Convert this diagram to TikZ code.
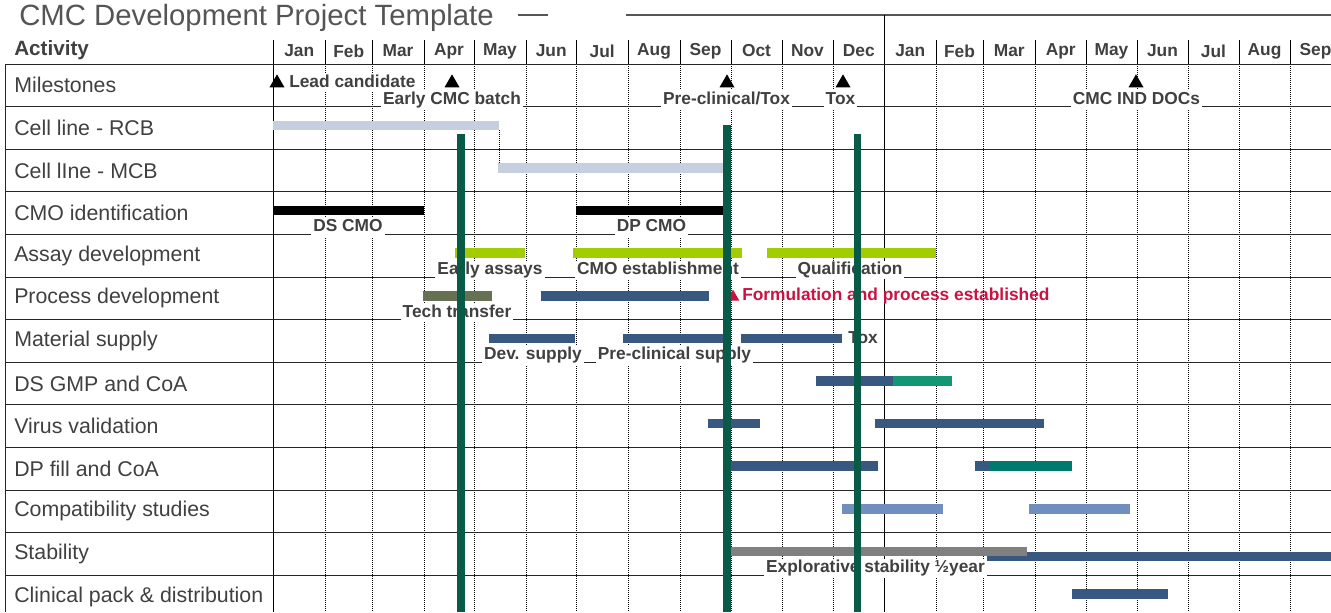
\documentclass[tikz,border=0pt]{standalone}
\usepackage{fontspec}
\setmainfont{Liberation Sans}
\usetikzlibrary{shapes.geometric}

\definecolor{txtgray}{RGB}{64,64,64}
\definecolor{titlegray}{RGB}{85,85,85}
\definecolor{rcbblue}{RGB}{197,207,224}
\definecolor{barblue}{RGB}{56,88,128}
\definecolor{limebar}{RGB}{162,205,0}
\definecolor{olivebar}{RGB}{102,112,82}
\definecolor{tealbar}{RGB}{18,150,115}
\definecolor{darkteal}{RGB}{0,122,110}
\definecolor{steelbar}{RGB}{112,143,188}
\definecolor{stabgray}{RGB}{128,128,128}
\definecolor{keygreen}{RGB}{10,90,72}
\definecolor{alertred}{RGB}{204,18,66}

\tikzset{
	rowlbl/.style={anchor=west, inner sep=0pt, text=txtgray, font=\fontsize{16}{18}\selectfont},
	month/.style={text=txtgray, font=\bfseries\fontsize{13}{15}\selectfont},
	barlbl/.style={anchor=base, fill=white, text=txtgray, inner xsep=1.5pt, inner ysep=1pt,
		text height=9.5pt, text depth=2.6pt, font=\bfseries\fontsize{13}{15}\selectfont},
	mstone/.style={regular polygon, regular polygon sides=3, fill=black, inner sep=0pt, minimum size=13pt},
	gridline/.style={black, densely dotted, line width=0.5pt},
	rowline/.style={black!85, line width=0.7pt},
	ganttbar/.style={line width=7.1pt},
	keybar/.style={keygreen, line width=5.6pt}
}

\begin{document}
\begin{tikzpicture}[x=0.75pt, y=-0.75pt]
	\useasboundingbox (0,0) rectangle (1331,612);
	\clip (0,0) rectangle (1331,612);
	% Title
	\node [anchor=west, inner sep=0pt, text=titlegray, font=\fontsize{22}{26}\selectfont] (title) at (19,18) {CMC Development Project Template};
	\draw [titlegray, line width=0.8pt] (518,15) -- (548,15);
	\draw [titlegray, line width=0.8pt] (626,15) -- (1331,15);
	% Header and month grid
	\node [anchor=west, inner sep=0pt, text=txtgray, font=\bfseries\fontsize{15.5}{18}\selectfont] (activity) at (14,50) {Activity};
	\foreach \mon/\xa/\xb [count=\i] in {Jan/273/325.5, Feb/325.5/372, Mar/372/424, Apr/424/474, May/474/526, Jun/526/576.5, Jul/576.5/628, Aug/628/680, Sep/680/731, Oct/731/782, Nov/782/833, Dec/833/884.5, Jan/884.5/936, Feb/936/983, Mar/983/1035.5, Apr/1035.5/1086, May/1086/1137, Jun/1137/1188, Jul/1188/1239, Aug/1239/1290, Sep/1290/1341}{
		\node [month] (mon\i) at ({(\xa+\xb)/2},51) {\mon};
		\draw [black, line width=0.6pt] (\xb,40) -- (\xb,64);
		\draw [gridline] (\xb,64) -- (\xb,612);
	}
	\draw [black, line width=0.7pt] (273,40) -- (273,612);
	\draw [black, line width=0.7pt] (884.5,15) -- (884.5,612);
	\draw [rowline] (5,64) -- (1331,64);
	\draw [rowline] (5,64) -- (5,612);
	% Activities
	\foreach \lbl [count=\r from 0] in {Milestones, Cell line - RCB, Cell lIne - MCB, CMO identification, Assay development, Process development, Material supply, DS GMP and CoA, Virus validation, DP fill and CoA, Compatibility studies, Stability, {Clinical pack \& distribution}}{
		\node [rowlbl] (row\r) at (14,{64+42.6*(\r+0.5)}) {\lbl};
		\draw [rowline] (5,{64+42.6*(\r+1)}) -- (1331,{64+42.6*(\r+1)});
	}
	% Bars
	\draw [ganttbar, rcbblue] (273,125.4) -- (499,125.4);
	\draw [ganttbar, rcbblue] (498,168) -- (730,168);
	\coordinate (rcbend) at (499,130);
	\coordinate (mcbstart) at (499,163.5);
	\draw [gridline] (rcbend) -- (mcbstart);
	\draw [ganttbar, black] (273,210.6) -- (423.5,210.6);
	\draw [ganttbar, black] (575.5,210.6) -- (723,210.6);
	\draw [ganttbar, limebar] (455,253.2) -- (525,253.2);
	\draw [ganttbar, limebar] (573,253.2) -- (742,253.2);
	\draw [ganttbar, limebar] (767,253.2) -- (936,253.2);
	\draw [ganttbar, olivebar] (422.5,295.8) -- (491.5,295.8);
	\draw [ganttbar, barblue] (540.5,295.8) -- (709,295.8);
	\draw [ganttbar, barblue] (489,338.4) -- (575,338.4);
	\draw [ganttbar, barblue] (623,338.4) -- (730,338.4);
	\draw [ganttbar, barblue] (740.5,338.4) -- (842,338.4);
	\draw [ganttbar, barblue] (815.5,381) -- (893,381);
	\draw [ganttbar, tealbar] (893,381) -- (952,381);
	\draw [ganttbar, barblue] (707.5,423.6) -- (759.5,423.6);
	\draw [ganttbar, barblue] (874.5,423.6) -- (1043.5,423.6);
	\draw [ganttbar, barblue] (730,466.2) -- (878,466.2);
	\draw [ganttbar, barblue] (974.5,466.2) -- (989,466.2);
	\draw [ganttbar, darkteal] (989,466.2) -- (1072,466.2);
	\draw [ganttbar, steelbar] (842,508.8) -- (943,508.8);
	\draw [ganttbar, steelbar] (1029,508.8) -- (1130,508.8);
	\draw [ganttbar, barblue] (987,556.4) -- (1331,556.4);
	\draw [ganttbar, stabgray] (730,551.4) -- (1027,551.4);
	\draw [ganttbar, barblue] (1072,594) -- (1168,594);
	% Milestones
	\node [mstone] (ms1) at (277,83) {};
	\node [mstone] (ms2) at (452,83) {};
	\node [mstone] (ms3) at (727,83) {};
	\node [mstone] (ms4) at (843,83) {};
	\node [mstone] (ms5) at (1136,83) {};
	\node [mstone, fill=alertred, minimum size=11pt] (ms6) at (733,297) {};
	\node [barlbl, anchor=base west] (lead) at (287,87) {Lead candidate};
	\node [barlbl] (early) at (452,104.1) {Early CMC batch};
	\node [barlbl] (preclin) at (726.5,104.1) {Pre-clinical/Tox};
	\node [barlbl] (tox) at (840.5,104.1) {Tox};
	\node [barlbl] (ind) at (1136.5,104.1) {CMC IND DOCs};
	% Bar labels
	\node [barlbl] (dscmo) at (348,231.9) {DS CMO};
	\node [barlbl] (dpcmo) at (651.5,231.9) {DP CMO};
	\node [barlbl] (assays) at (490,274.5) {Early assays};
	\node [barlbl] (cmoest) at (658,274.5) {CMO establishment};
	\node [barlbl] (qual) at (850,274.5) {Qualification};
	\node [barlbl] (techtr) at (457,317.1) {Tech transfer};
	\node [barlbl, anchor=base west, fill=none, text=alertred] (formul) at (740,300) {Formulation and process established};
	\node [barlbl] (devsup) at (533,359.7) {Dev. supply};
	\node [barlbl] (presup) at (674.5,359.7) {Pre-clinical supply};
	\node [barlbl, anchor=base west, fill=none] (toxsup) at (846,343) {Tox};
	\node [barlbl] (explor) at (875.5,572.7) {Explorative stability ½year};
	% Key dates
	\draw [keybar] (461,134) -- (461,612);
	\draw [keybar] (727,125) -- (727,612);
	\draw [keybar] (857.5,134) -- (857.5,612);
\end{tikzpicture}
\end{document}
